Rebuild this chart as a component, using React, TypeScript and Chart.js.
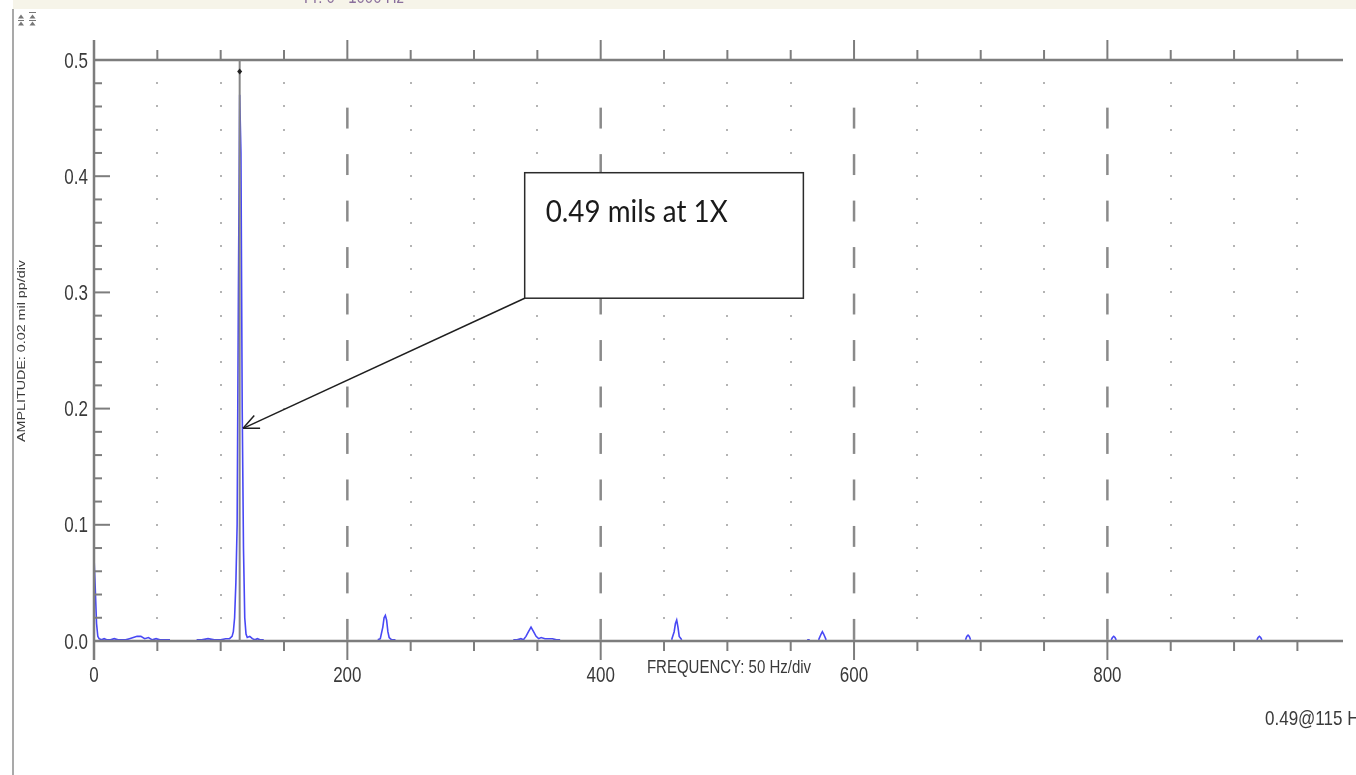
import React, { useEffect, useRef } from "react";
import { Chart, registerables } from "chart.js";

Chart.register(...registerables);

// ---------- data ----------
// Spectrum: frequency (Hz) and amplitude (mil pp); null = gap in trace
const freqHz: number[] = [
  0, 1, 2, 3, 4, 6, 8, 10, 13, 16, 19, 22, 25, 28, 31, 34, 37, 40, 43, 46, 49, 52, 55, 58, 60, 61,
  81, 85, 90, 95, 100, 104, 107, 109, 110, 111, 112, 113, 114, 115, 116, 117, 118, 119, 120, 121, 123, 125, 127, 129, 131, 134, 135,
  224, 226, 228, 229, 230, 231, 232, 233, 235, 238, 239,
  331, 334, 337, 339, 341, 343, 345, 347, 349, 351, 353, 356, 359, 362, 365, 368, 369,
  456, 458, 459, 460, 461, 462, 464, 465,
  563, 565, 566,
  572, 574, 575, 576, 578, 579,
  688, 689, 690, 691, 692, 693,
  803, 804, 805, 806, 807, 808,
  918, 919, 920, 921, 922,
];
const ampMil: (number | null)[] = [
  0.072, 0.045, 0.015, 0.004, 0.002, 0.001, 0.002, 0.001, 0.001, 0.002, 0.001, 0.001, 0.001, 0.002, 0.003, 0.004, 0.004, 0.002, 0.003, 0.001, 0.002, 0.001, 0.001, 0.001, 0.001, null,
  0.001, 0.001, 0.002, 0.001, 0.001, 0.002, 0.002, 0.004, 0.008, 0.02, 0.05, 0.1, 0.3, 0.47, 0.42, 0.2, 0.08, 0.02, 0.006, 0.003, 0.004, 0.002, 0.001, 0.002, 0.001, 0.001, null,
  0.001, 0.002, 0.012, 0.02, 0.022, 0.018, 0.008, 0.003, 0.001, 0.001, null,
  0.001, 0.001, 0.002, 0.001, 0.004, 0.008, 0.012, 0.008, 0.004, 0.002, 0.003, 0.002, 0.002, 0.002, 0.001, 0.001, null,
  0.001, 0.008, 0.015, 0.018, 0.012, 0.004, 0.001, null,
  0.001, 0.001, null,
  0.001, 0.006, 0.008, 0.006, 0.001, null,
  0.001, 0.004, 0.005, 0.004, 0.001, null,
  0.001, 0.003, 0.004, 0.003, 0.001, null,
  0.001, 0.003, 0.004, 0.003, 0.001,
];

const xTickValues = [0, 200, 400, 600, 800];
const yTickValues = [0, 0.1, 0.2, 0.3, 0.4, 0.5];
const xMin = 0;
const xMax = 986;
const yMin = 0;
const yMax = 0.5;
const xMinorStep = 50; // Hz per division
const yMinorStep = 0.02; // mil per division

const cursorFreq = 115;
const cursorAmp = 0.49;

const calloutText = "0.49 mils at 1X";
const calloutBox = { x0: 340, x1: 560, y0: 0.403, y1: 0.295 }; // data units
const arrowTip = { x: 117.7, y: 0.183 };

const readoutText = "0.49@115 Hz";
const xTitle = "FREQUENCY: 50 Hz/div";
const yTitle = "AMPLITUDE: 0.02 mil pp/div";
const topText = "Fr: 0 - 1000 Hz";

// ---------- helpers ----------
const AXIS = "#7d7d7d";
const LABEL = "#3a3a3a";
const SY = 1.25; // vertical stretch of the screenshot's text

function sText(
  ctx: CanvasRenderingContext2D,
  text: string,
  x: number,
  y: number,
  font: string,
  color: string,
  align: CanvasTextAlign,
  sy = SY,
  sx = 1
) {
  ctx.save();
  ctx.translate(x, y);
  ctx.scale(sx, sy);
  ctx.font = font;
  ctx.fillStyle = color;
  ctx.textAlign = align;
  ctx.textBaseline = "alphabetic";
  ctx.fillText(text, 0, 0);
  ctx.restore();
}

function line(ctx: CanvasRenderingContext2D, x0: number, y0: number, x1: number, y1: number) {
  ctx.beginPath();
  ctx.moveTo(x0, y0);
  ctx.lineTo(x1, y1);
  ctx.stroke();
}

const gridPlugin = {
  id: "scopeGrid",
  beforeDatasetsDraw(chart: any) {
    const ctx: CanvasRenderingContext2D = chart.ctx;
    const xs = chart.scales.x;
    const ys = chart.scales.y;
    ctx.save();
    // dots at minor intersections
    ctx.fillStyle = "#b4b4b4";
    for (let f = xMinorStep; f < xMax; f += xMinorStep) {
      if (f % 200 === 0) continue;
      const px = Math.round(xs.getPixelForValue(f));
      for (let a = yMinorStep; a < yMax - 1e-9; a += yMinorStep) {
        const py = Math.round(ys.getPixelForValue(a));
        ctx.fillRect(px - 1, py - 1, 2, 2);
      }
    }
    // dashed major verticals
    ctx.strokeStyle = "#8a8a8a";
    ctx.lineWidth = 2.5;
    for (const f of xTickValues) {
      if (f === 0) continue;
      const px = xs.getPixelForValue(f);
      for (let c = 0.01; c < 0.47; c += 0.04) {
        line(ctx, px, ys.getPixelForValue(c + 0.009), px, ys.getPixelForValue(c - 0.009));
      }
    }
    ctx.restore();
  },
};

const overlayPlugin = {
  id: "scopeOverlay",
  afterDatasetsDraw(chart: any) {
    const ctx: CanvasRenderingContext2D = chart.ctx;
    const xs = chart.scales.x;
    const ys = chart.scales.y;
    const area = chart.chartArea;
    const left = area.left;
    const right = area.right;
    const top = area.top;
    const bottom = area.bottom;
    ctx.save();

    // axes
    ctx.strokeStyle = AXIS;
    ctx.lineWidth = 2.5;
    line(ctx, left, top, right, top);
    line(ctx, left, bottom, right, bottom);
    line(ctx, left, top - 20, left, bottom + 19);

    // x ticks (top and bottom)
    ctx.lineWidth = 2;
    for (let f = xMinorStep; f < xMax; f += xMinorStep) {
      const px = xs.getPixelForValue(f);
      if (f % 200 === 0) {
        line(ctx, px, top - 20, px, top);
        line(ctx, px, bottom, px, bottom + 19);
      } else {
        line(ctx, px, top - 10, px, top);
        line(ctx, px, bottom, px, bottom + 10);
      }
    }
    // y ticks
    for (let i = 1; i < Math.round(yMax / yMinorStep); i++) {
      const a = i * yMinorStep;
      const py = ys.getPixelForValue(a);
      const major = i % 5 === 0;
      line(ctx, left, py, left + (major ? 16 : 8), py);
    }

    // cursor
    const cx = xs.getPixelForValue(cursorFreq);
    ctx.strokeStyle = "#858585";
    ctx.lineWidth = 2;
    line(ctx, cx, top, cx, bottom);
    const cy = ys.getPixelForValue(cursorAmp);
    ctx.fillStyle = "#222";
    ctx.beginPath();
    ctx.moveTo(cx, cy - 3);
    ctx.lineTo(cx + 2.5, cy);
    ctx.lineTo(cx, cy + 3);
    ctx.lineTo(cx - 2.5, cy);
    ctx.closePath();
    ctx.fill();

    // tick labels
    const tickFont = '17px "Liberation Sans", Arial, sans-serif';
    for (const v of yTickValues) {
      const py = ys.getPixelForValue(v);
      sText(ctx, v.toFixed(1), left - 6, py + 7.5, tickFont, LABEL, "right");
    }
    for (const v of xTickValues) {
      const px = xs.getPixelForValue(v);
      sText(ctx, String(v), px, bottom + 41, tickFont, LABEL, "center");
    }

    // axis titles
    sText(ctx, xTitle, 729, bottom + 32, '15px "Liberation Sans", Arial, sans-serif', LABEL, "center", 1.2);
    ctx.save();
    ctx.translate(25, 351);
    ctx.rotate(-Math.PI / 2);
    ctx.scale(1.3, 1);
    ctx.font = '11px "Liberation Sans", Arial, sans-serif';
    ctx.fillStyle = LABEL;
    ctx.textAlign = "center";
    ctx.textBaseline = "alphabetic";
    ctx.fillText(yTitle, 0, 0);
    ctx.restore();

    // readout
    sText(ctx, readoutText, 1265, 725, '17px "Liberation Sans", Arial, sans-serif', LABEL, "left", 1.2);

    // callout box
    const bx0 = xs.getPixelForValue(calloutBox.x0);
    const bx1 = xs.getPixelForValue(calloutBox.x1);
    const by0 = ys.getPixelForValue(calloutBox.y0);
    const by1 = ys.getPixelForValue(calloutBox.y1);
    ctx.fillStyle = "#ffffff";
    ctx.fillRect(bx0, by0, bx1 - bx0, by1 - by0);
    ctx.strokeStyle = "#2b2b2b";
    ctx.lineWidth = 1.5;
    ctx.strokeRect(bx0, by0, bx1 - bx0, by1 - by0);
    ctx.save();
    ctx.font = '26px Lato, "Open Sans", sans-serif';
    const w = ctx.measureText(calloutText).width;
    ctx.restore();
    sText(ctx, calloutText, bx0 + 21, by0 + 49, '26px Lato, "Open Sans", sans-serif', "#1a1a1a", "left", 1.22, 182 / w);

    // arrow
    const tx = xs.getPixelForValue(arrowTip.x);
    const ty = ys.getPixelForValue(arrowTip.y);
    ctx.strokeStyle = "#1f1f1f";
    ctx.lineWidth = 1.5;
    line(ctx, bx0, by1, tx, ty);
    const ang = Math.atan2(by1 - ty, bx0 - tx);
    const hl = 17;
    for (const d of [-0.42, 0.42]) {
      line(ctx, tx, ty, tx + hl * Math.cos(ang + d), ty + hl * Math.sin(ang + d));
    }

    // page decorations: top band, left frame line, icons
    ctx.fillStyle = "#f6f4e9";
    ctx.fillRect(13, 0, 1356 - 13, 9);
    ctx.save();
    ctx.beginPath();
    ctx.rect(13, 0, 1343, 9);
    ctx.clip();
    sText(ctx, topText, 304, 3, '15px "Liberation Sans", Arial, sans-serif', "#8a6f9c", "left", 1.2);
    ctx.restore();
    ctx.strokeStyle = "#8c8c8c";
    ctx.lineWidth = 1.5;
    line(ctx, 13, 9, 13, 775);
    ctx.fillStyle = "#777";
    const tri = (x: number, y: number) => {
      ctx.beginPath();
      ctx.moveTo(x, y - 2.5);
      ctx.lineTo(x + 3, y + 1.5);
      ctx.lineTo(x - 3, y + 1.5);
      ctx.closePath();
      ctx.fill();
    };
    tri(21, 17);
    ctx.fillRect(18, 20, 6, 1);
    tri(21, 24);
    ctx.fillRect(29, 12, 7, 1);
    tri(32.5, 17);
    ctx.fillRect(29, 20, 7, 1);
    tri(32.5, 24);

    ctx.restore();
  },
};

export default function App() {
  const ref = useRef<HTMLCanvasElement>(null);
  useEffect(() => {
    document.body.style.margin = "0";
    const canvas = ref.current;
    if (!canvas) return;
    const points = freqHz.map((f, i) => ({ x: f, y: ampMil[i] }));
    const chart = new Chart(canvas, {
      type: "line",
      data: {
        datasets: [
          {
            data: points as any,
            borderColor: "rgb(72,72,245)",
            borderWidth: 1.6,
            pointRadius: 0,
            tension: 0,
            spanGaps: false,
            fill: false,
          },
        ],
      },
      options: {
        animation: false,
        responsive: false,
        devicePixelRatio: 1,
        events: [],
        layout: { padding: { left: 94, top: 60, right: 13, bottom: 134 } },
        plugins: { legend: { display: false }, tooltip: { enabled: false }, title: { display: false } },
        scales: {
          x: { type: "linear", display: false, min: xMin, max: xMax },
          y: { type: "linear", display: false, min: yMin, max: yMax },
        },
      },
      plugins: [gridPlugin, overlayPlugin],
    });
    return () => chart.destroy();
  }, []);
  return (
    <div style={{ position: "absolute", left: 0, top: 0, width: 1356, height: 775, background: "#ffffff" }}>
      <canvas ref={ref} width={1356} height={775} style={{ display: "block" }} />
    </div>
  );
}
